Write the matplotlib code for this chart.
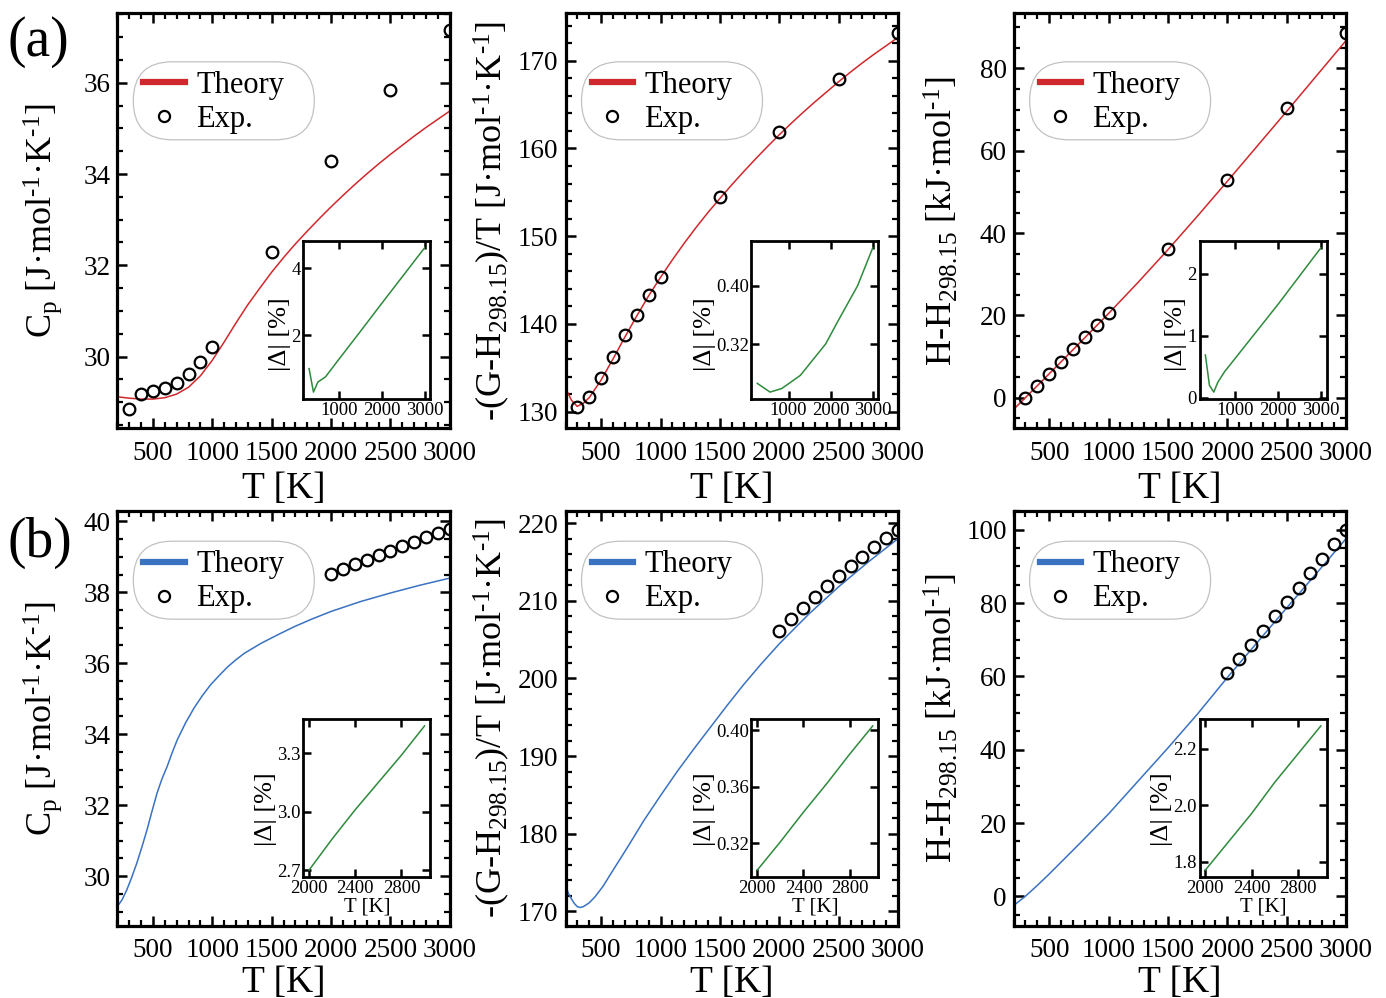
import matplotlib
matplotlib.use("Agg")
import matplotlib.pyplot as plt
from matplotlib.lines import Line2D
from matplotlib.patches import FancyBboxPatch
from matplotlib.ticker import MultipleLocator, FormatStrFormatter

plt.rcParams.update({
    "font.family": "Liberation Serif",
    "mathtext.fontset": "custom",
    "mathtext.rm": "Liberation Serif",
    "mathtext.it": "Liberation Serif:italic",
    "mathtext.bf": "Liberation Serif:bold",
})

RED = "#d0282c"
BLUE = "#3a72c2"
GREEN = "#2e8a3c"

# ---------- (a) data
T_exp_a = [298.15, 400, 500, 600, 700, 800, 900, 1000, 1500, 2000, 2500, 3000]
cp_exp_a = [28.85, 29.18, 29.25, 29.32, 29.43, 29.61, 29.88, 30.20, 32.30, 34.28, 35.84, 37.15]
phi_exp_a = [130.57, 131.7, 133.8, 136.27, 138.75, 141.03, 143.28, 145.4, 154.5, 161.9, 167.95, 173.2]
dh_exp_a = [0.0, 2.9, 5.76, 8.74, 11.76, 14.67, 17.66, 20.5, 36.2, 52.8, 70.4, 88.7]

T_cp_a = [200, 300, 400, 500, 600, 700, 800, 900, 1000, 1100, 1200, 1300, 1400, 1500,
          1600, 1700, 1800, 1900, 2000, 2100, 2200, 2300, 2400, 2500, 2600, 2700, 2800,
          2900, 3000]
cp_th_a = [29.12, 29.09, 29.07, 29.07, 29.10, 29.18, 29.33, 29.58, 29.92, 30.32, 30.74,
           31.14, 31.50, 31.85, 32.17, 32.47, 32.75, 33.02, 33.28, 33.53, 33.77, 34.00,
           34.22, 34.43, 34.63, 34.83, 35.02, 35.20, 35.38]
T_phi_a = [200, 250, 298.15, 350, 400, 500, 600, 700, 800, 900, 1000, 1100, 1200, 1300,
           1400, 1500, 1600, 1700, 1800, 1900, 2000, 2100, 2200, 2300, 2400, 2500, 2600,
           2700, 2800, 2900, 3000]
phi_th_a = [132.7, 131.3, 130.6, 130.95, 131.6, 133.6, 136.0, 138.5, 140.9, 143.2, 145.3,
            147.3, 149.2, 151.0, 152.7, 154.3, 155.85, 157.35, 158.8, 160.2, 161.55,
            162.85, 164.1, 165.3, 166.45, 167.6, 168.7, 169.75, 170.75, 171.7, 172.65]
T_dh_a = [200, 298.15, 400, 500, 600, 700, 800, 900, 1000, 1250, 1500, 1750, 2000, 2250,
          2500, 2750, 3000]
dh_th_a = [-2.8, 0.0, 2.95, 5.85, 8.75, 11.67, 14.6, 17.55, 20.5, 28.1, 36.0, 44.2, 52.6,
           61.1, 69.6, 78.2, 86.8]

# relative deviation |Delta| (%) for the insets
T_dcp_a = [310, 412, 515, 690, 1000, 1500, 2000, 2500, 3000]
dcp_a = [1.00, 0.30, 0.60, 0.75, 1.27, 2.10, 2.94, 3.77, 4.60]
T_dphi_a = [257, 561, 842, 1281, 1880, 2160, 2640, 3000]
dphi_a = [0.266, 0.254, 0.259, 0.277, 0.320, 0.350, 0.400, 0.452]
T_ddh_a = [296, 391, 493, 588, 746, 1000, 2000, 3000]
ddh_a = [0.69, 0.20, 0.09, 0.25, 0.42, 0.64, 1.51, 2.42]

# ---------- (b) data
T_exp_b = [2000, 2100, 2200, 2300, 2400, 2500, 2600, 2700, 2800, 2900, 3000]
cp_exp_b = [38.52, 38.66, 38.80, 38.92, 39.04, 39.17, 39.30, 39.42, 39.55, 39.67, 39.79]
phi_exp_b = [206.13, 207.68, 209.06, 210.43, 211.85, 213.13, 214.42, 215.58, 216.87,
             218.07, 219.14]
dh_exp_b = [60.9, 64.8, 68.6, 72.4, 76.4, 80.3, 84.1, 88.1, 92.1, 96.1, 99.8]

T_cp_b = [200, 240, 280, 320, 365, 410, 450, 490, 535, 575, 620, 660, 705, 775, 845, 915,
          985, 1060, 1130, 1200, 1270, 1410, 1550, 1690, 1835, 2000, 2250, 2500, 2750, 3000]
cp_th_b = [29.14, 29.33, 29.61, 29.95, 30.37, 30.85, 31.30, 31.80, 32.34, 32.73, 33.09,
           33.46, 33.84, 34.32, 34.73, 35.08, 35.39, 35.66, 35.90, 36.10, 36.28, 36.56,
           36.80, 37.03, 37.24, 37.46, 37.74, 37.98, 38.20, 38.40]
T_phi_b = [200, 225, 250, 275, 300, 325, 350, 400, 450, 515, 580, 650, 720, 860, 1000,
           1140, 1280, 1420, 1560, 1700, 1850, 2000, 2250, 2500, 2750, 3000]
phi_th_b = [173.4, 172.3, 171.6, 171.0, 170.6, 170.5, 170.6, 171.1, 171.9, 173.2, 174.8,
            176.5, 178.2, 181.7, 184.9, 188.0, 190.9, 193.7, 196.5, 199.2, 201.9, 204.45,
            208.3, 211.8, 215.0, 218.0]
T_dh_b = [200, 298.15, 400, 500, 750, 1000, 1250, 1500, 1750, 2000, 2250, 2500, 2750, 3000]
dh_th_b = [-2.5, 0.0, 3.0, 6.1, 14.2, 22.5, 31.5, 40.5, 49.8, 59.7, 69.2, 78.7, 88.1, 97.6]

T_d_b = [2000, 2200, 2400, 2600, 2800, 3000]
dcp_b = [2.70, 2.86, 3.01, 3.15, 3.29, 3.44]
dphi_b = [0.301, 0.321, 0.342, 0.362, 0.383, 0.403]
ddh_b = [1.77, 1.87, 1.97, 2.08, 2.18, 2.28]

# ---------- labels
LBL_CP = r"C$_\mathrm{p}$ [J·mol$^{\text{-1}}$·K$^{\text{-1}}$]"
LBL_PHI = r"-(G-H$_\mathrm{298.15}$)/T [J·mol$^{\text{-1}}$·K$^{\text{-1}}$]"
LBL_DH = r"H-H$_\mathrm{298.15}$ [kJ·mol$^{\text{-1}}$]"

# ---------- layout (pixels, figure is 1386 x 998 at dpi 100)
FW, FH = 1386, 998
COL_X = [117.3, 565.5, 1013.6]
ROW_Y = [13.3, 510.7]
AW, AH = 332.5, 415.0


def draw_main(ax, T_th, y_th, T_ex, y_ex, color, ylabel, ylim, major, minor, row):
    ax.plot(T_th, y_th, color=color, lw=1.1, zorder=2)
    ax.plot(T_ex, y_ex, ls="none", marker="o", ms=8.4, mfc="none", mec="k", mew=1.6,
            zorder=3)
    ax.set_xlim(200, 3000)
    ax.set_ylim(*ylim)
    ax.xaxis.set_major_locator(MultipleLocator(500))
    ax.xaxis.set_minor_locator(MultipleLocator(100))
    ax.yaxis.set_major_locator(MultipleLocator(major))
    ax.yaxis.set_minor_locator(MultipleLocator(minor))
    ax.tick_params(which="both", direction="in", top=True, right=True, labelsize=19.5)
    ax.tick_params(axis="x", which="both", pad=9)
    ax.tick_params(axis="y", which="both", pad=5)
    ax.tick_params(which="major", length=7.5, width=1.8)
    ax.tick_params(which="minor", length=4.5, width=1.6)
    for s in ax.spines.values():
        s.set_linewidth(2.3)
    ax.set_xlabel("T [K]", fontsize=27, labelpad=4 if row == 0 else 2)
    ax.set_ylabel(ylabel, fontsize=26)
    ax.yaxis.set_label_coords(-0.16, 0.5)

    # pill-shaped legend frame
    box_top = 48.5 if row == 0 else 30.5
    bw, bh = 181.0, 78.0
    pill = FancyBboxPatch((16.0 / AW, 1 - (box_top + bh) / AH), bw / AW, bh / AH,
                          boxstyle=f"round,pad=0,rounding_size={0.5 * bh / AW}",
                          mutation_aspect=AW / AH, transform=ax.transAxes,
                          fc="white", ec="#c2c2c2", lw=0.9, zorder=4)
    ax.add_patch(pill)
    handles = [Line2D([], [], color=color, lw=4.5),
               Line2D([], [], ls="none", marker="o", ms=8.0, mfc="none", mec="k", mew=1.6)]
    leg = ax.legend(handles, ["Theory", "Exp."], loc="upper left",
                    bbox_to_anchor=(26.0 / AW, 1 - (box_top + 9.0) / AH),
                    frameon=False, fontsize=22, handlelength=1.35, handletextpad=0.38,
                    labelspacing=0.17, borderpad=0, borderaxespad=0)
    leg.set_zorder(5)


def draw_inset(ax, T, d, row, xticks, yticks, yfmt):
    bottom = 29.0 if row == 0 else 48.4
    ins = ax.inset_axes([186.0 / AW, bottom / AH, 127.0 / AW, 158.6 / AH])
    ins.plot(T, d, color=GREEN, lw=1.1)
    ins.set_xticks(xticks)
    ins.set_yticks(yticks)
    ins.yaxis.set_major_formatter(FormatStrFormatter(yfmt))
    ins.tick_params(direction="in", top=True, right=True, labelsize=13.5, length=6,
                    width=1.8, pad=2)
    for s in ins.spines.values():
        s.set_linewidth(2.0)
    ins.set_ylabel("|Δ| [%]", fontsize=19, labelpad=0)
    ins.yaxis.label.set_y(0.41 if row == 0 else 0.43)
    if row == 1:
        ins.set_xlabel("T [K]", fontsize=15, labelpad=0)
    ins.set_zorder(6)


fig = plt.figure(figsize=(FW / 100, FH / 100), dpi=100)
axes = [[fig.add_axes([x / FW, 1 - (y + AH) / FH, AW / FW, AH / FH]) for x in COL_X]
        for y in ROW_Y]

# row (a)
draw_main(axes[0][0], T_cp_a, cp_th_a, T_exp_a, cp_exp_a, RED, LBL_CP, (28.43, 37.52), 2, 0.5, 0)
draw_main(axes[0][1], T_phi_a, phi_th_a, T_exp_a, phi_exp_a, RED, LBL_PHI, (128.1, 175.4), 10, 2, 0)
draw_main(axes[0][2], T_dh_a, dh_th_a, T_exp_a, dh_exp_a, RED, LBL_DH, (-7.4, 93.4), 20, 5, 0)
draw_inset(axes[0][0], T_dcp_a, dcp_a, 0, [1000, 2000, 3000], [2, 4], "%g")
draw_inset(axes[0][1], T_dphi_a, dphi_a, 0, [1000, 2000, 3000], [0.32, 0.40], "%.2f")
draw_inset(axes[0][2], T_ddh_a, ddh_a, 0, [1000, 2000, 3000], [0, 1, 2], "%g")

# row (b)
draw_main(axes[1][0], T_cp_b, cp_th_b, T_exp_b, cp_exp_b, BLUE, LBL_CP, (28.6, 40.3), 2, 0.5, 1)
draw_main(axes[1][1], T_phi_b, phi_th_b, T_exp_b, phi_exp_b, BLUE, LBL_PHI, (168.15, 221.6), 10, 2, 1)
draw_main(axes[1][2], T_dh_b, dh_th_b, T_exp_b, dh_exp_b, BLUE, LBL_DH, (-8.0, 105.2), 20, 5, 1)
draw_inset(axes[1][0], T_d_b, dcp_b, 1, [2000, 2400, 2800], [2.7, 3.0, 3.3], "%.1f")
draw_inset(axes[1][1], T_d_b, dphi_b, 1, [2000, 2400, 2800], [0.32, 0.36, 0.40], "%.2f")
draw_inset(axes[1][2], T_d_b, ddh_b, 1, [2000, 2400, 2800], [1.8, 2.0, 2.2], "%.1f")

fig.text(8 / FW, 1 - 56 / FH, "(a)", fontsize=40, va="baseline", ha="left")
fig.text(8 / FW, 1 - 557 / FH, "(b)", fontsize=40, va="baseline", ha="left")

fig.savefig("out.png", dpi=100)
